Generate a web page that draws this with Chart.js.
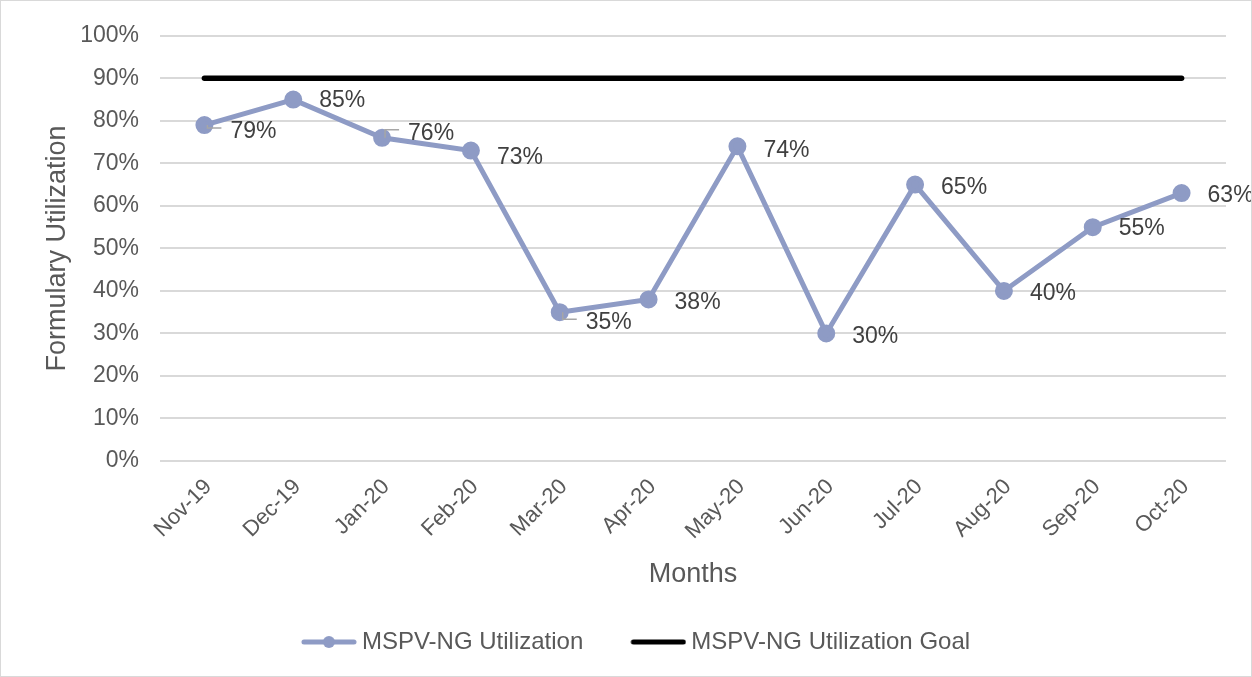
<!DOCTYPE html>
<html>
<head>
<meta charset="utf-8">
<script src="https://cdn.jsdelivr.net/npm/chart.js@4/dist/chart.umd.min.js"></script>
<style>
  html, body { margin: 0; padding: 0; background: #fff; }
  #wrap { width: 1250px; height: 675px; border: 1px solid #d9d9d9; }
</style>
</head>
<body>
<div id="wrap"><canvas id="chart" width="1250" height="675"></canvas></div>
<script>
// chart data
const months = ['Nov-19', 'Dec-19', 'Jan-20', 'Feb-20', 'Mar-20', 'Apr-20',
  'May-20', 'Jun-20', 'Jul-20', 'Aug-20', 'Sep-20', 'Oct-20'];
const utilization = [79, 85, 76, 73, 35, 38, 74, 30, 65, 40, 55, 63];
const goal = [90, 90, 90, 90, 90, 90, 90, 90, 90, 90, 90, 90];
const yTicks = [0, 10, 20, 30, 40, 50, 60, 70, 80, 90, 100];

const FONT = "'Liberation Sans', Arial, sans-serif";
const TEXT = '#595959';
const BLUE = '#8e9bc5';

// label nudges (px) so labels sit like the original
const labelDy = [7, 1, -4, 7, 10, 3, 4, 3, 3, 3, 2, 3];
const leaderDy = { 0: 3, 2: -8, 4: 7 };

// legend symbols: line (+ marker) drawn on a small canvas
function legendSymbol(color, marker) {
  const c = document.createElement('canvas');
  c.width = 100; c.height = 16;
  const g = c.getContext('2d');
  g.strokeStyle = color; g.lineWidth = 5; g.lineCap = 'round';
  g.beginPath(); g.moveTo(47, 8); g.lineTo(97, 8); g.stroke();
  if (marker) {
    g.fillStyle = color;
    g.beginPath(); g.arc(72, 8, 6, 0, Math.PI * 2); g.fill();
  }
  return c;
}
const legendIcons = [legendSymbol(BLUE, true), legendSymbol('#000', false)];

const pointLabels = {
  id: 'pointLabels',
  afterDatasetsDraw(chart) {
    const ctx = chart.ctx;
    const meta = chart.getDatasetMeta(0);
    ctx.save();
    ctx.font = '23px ' + FONT;
    ctx.fillStyle = '#404040';
    ctx.textBaseline = 'middle';
    ctx.textAlign = 'left';
    meta.data.forEach((pt, i) => {
      const x = pt.x + 26, y = pt.y + labelDy[i];
      if (leaderDy[i] !== undefined) {
        const ly = pt.y + leaderDy[i];
        ctx.strokeStyle = '#a6a6a6';
        ctx.lineWidth = 1.5;
        ctx.beginPath();
        ctx.moveTo(pt.x + 3, pt.y);
        ctx.lineTo(pt.x + 3, ly);
        ctx.lineTo(pt.x + 17, ly);
        ctx.stroke();
      }
      ctx.fillText(utilization[i] + '%', x, y);
    });
    ctx.restore();
  }
};

new Chart(document.getElementById('chart'), {
  type: 'line',
  data: {
    labels: months,
    datasets: [
      {
        label: 'MSPV-NG Utilization',
        data: utilization,
        borderColor: BLUE,
        backgroundColor: BLUE,
        borderWidth: 5,
        pointRadius: 6.5,
        pointHoverRadius: 6.5,
        tension: 0,
        order: 1
      },
      {
        label: 'MSPV-NG Utilization Goal',
        data: goal,
        borderColor: '#000000',
        backgroundColor: '#000000',
        borderWidth: 5.5,
        borderCapStyle: 'round',
        pointRadius: 0,
        tension: 0,
        order: 2
      }
    ]
  },
  options: {
    responsive: false,
    animation: false,
    layout: { padding: { left: 7, right: 25, top: 33, bottom: 12 } },
    scales: {
      x: {
        offset: true,
        afterFit: axis => { axis.height = 159; },
        grid: { display: false, drawTicks: false },
        border: { display: false },
        ticks: {
          color: TEXT, font: { family: FONT, size: 22 },
          maxRotation: 45, minRotation: 45, padding: 13, labelOffset: 4
        },
        title: {
          display: true, text: 'Months', color: TEXT,
          font: { family: FONT, size: 27 }, padding: { top: 0, bottom: 29 }
        }
      },
      y: {
        min: 0, max: 100,
        afterFit: axis => { axis.width = 152; },
        afterBuildTicks: axis => { axis.ticks = yTicks.map(v => ({ value: v })); },
        grid: { color: '#d9d9d9', lineWidth: 2, drawTicks: false },
        border: { display: false },
        ticks: {
          color: TEXT, font: { family: FONT, size: 23 }, padding: 21,
          callback: v => v + '%'
        },
        title: {
          display: true, text: 'Formulary Utilization', color: TEXT,
          font: { family: FONT, size: 27 }, padding: { top: 33, bottom: 0 }
        }
      }
    },
    plugins: {
      legend: {
        position: 'bottom',
        labels: {
          color: TEXT, font: { family: FONT, size: 24 },
          usePointStyle: true, pointStyleWidth: 86,
          padding: 10,
          generateLabels: chart => {
            const items = Chart.defaults.plugins.legend.labels.generateLabels(chart);
            items.forEach((it, i) => { it.pointStyle = legendIcons[i]; });
            return items;
          }
        }
      },
      tooltip: { enabled: false }
    }
  },
  plugins: [pointLabels]
});
</script>
</body>
</html>
